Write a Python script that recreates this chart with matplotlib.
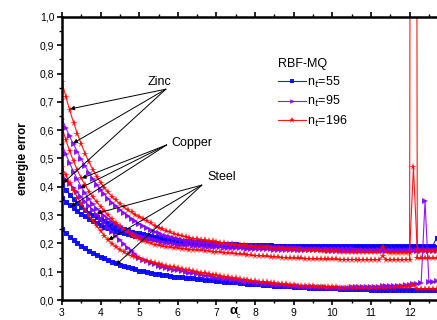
import matplotlib
matplotlib.use("Agg")
import matplotlib.pyplot as plt
import numpy as np
from matplotlib.ticker import MultipleLocator, FuncFormatter

plt.rcParams['font.family'] = ['Liberation Sans', 'DejaVu Sans']

# alpha_c grid, 3.0 ... 12.7 step 0.1
alpha = np.round(np.arange(30, 128) / 10.0, 1)

# nt = 55 (blue)
zinc_55 = [0.410, 0.390, 0.372, 0.356, 0.342, 0.330, 0.319, 0.309, 0.300, 0.292,
           0.285, 0.278, 0.272, 0.266, 0.260, 0.255, 0.251, 0.246, 0.242, 0.238,
           0.235, 0.232, 0.229, 0.226, 0.224, 0.221, 0.219, 0.217, 0.215, 0.213,
           0.211, 0.210, 0.209, 0.207, 0.206, 0.205, 0.204, 0.203, 0.202, 0.201,
           0.200, 0.199, 0.199, 0.198, 0.197, 0.197, 0.196, 0.196, 0.195, 0.195,
           0.194, 0.194, 0.193, 0.193, 0.193, 0.192, 0.192, 0.192, 0.192, 0.191,
           0.191, 0.191, 0.191, 0.191, 0.191, 0.191, 0.191, 0.190, 0.190, 0.190,
           0.190, 0.190, 0.190, 0.190, 0.190, 0.190, 0.190, 0.190, 0.190, 0.190,
           0.190, 0.190, 0.190, 0.190, 0.190, 0.190, 0.190, 0.190, 0.190, 0.190,
           0.190, 0.190, 0.190, 0.191, 0.191, 0.191, 0.191, 0.220]
copper_55 = [0.360, 0.347, 0.335, 0.324, 0.314, 0.305, 0.296, 0.287, 0.279, 0.272,
             0.265, 0.259, 0.254, 0.249, 0.244, 0.240, 0.236, 0.233, 0.230, 0.227,
             0.225, 0.222, 0.220, 0.218, 0.216, 0.214, 0.212, 0.210, 0.208, 0.207,
             0.205, 0.204, 0.203, 0.202, 0.201, 0.200, 0.199, 0.198, 0.197, 0.197,
             0.196, 0.195, 0.195, 0.194, 0.194, 0.193, 0.193, 0.192, 0.192, 0.192,
             0.191, 0.191, 0.191, 0.190, 0.190, 0.190, 0.190, 0.190, 0.189, 0.189,
             0.189, 0.189, 0.189, 0.189, 0.189, 0.189, 0.189, 0.189, 0.188, 0.188,
             0.188, 0.188, 0.188, 0.188, 0.188, 0.188, 0.188, 0.188, 0.188, 0.188,
             0.188, 0.188, 0.188, 0.188, 0.188, 0.188, 0.188, 0.188, 0.188, 0.188,
             0.188, 0.188, 0.188, 0.188, 0.188, 0.188, 0.188, 0.188]
steel_55 = [0.250, 0.237, 0.224, 0.212, 0.201, 0.191, 0.182, 0.174, 0.166, 0.159,
            0.153, 0.147, 0.141, 0.135, 0.130, 0.125, 0.120, 0.116, 0.112, 0.108,
            0.104, 0.101, 0.098, 0.096, 0.093, 0.091, 0.089, 0.087, 0.085, 0.083,
            0.081, 0.080, 0.078, 0.077, 0.076, 0.074, 0.073, 0.072, 0.070, 0.069,
            0.068, 0.066, 0.065, 0.064, 0.063, 0.062, 0.060, 0.059, 0.058, 0.057,
            0.056, 0.055, 0.054, 0.053, 0.052, 0.051, 0.050, 0.050, 0.049, 0.048,
            0.047, 0.046, 0.046, 0.045, 0.044, 0.044, 0.043, 0.043, 0.042, 0.042,
            0.041, 0.041, 0.040, 0.040, 0.039, 0.039, 0.039, 0.038, 0.038, 0.038,
            0.037, 0.037, 0.037, 0.036, 0.036, 0.036, 0.036, 0.035, 0.035, 0.035,
            0.035, 0.035, 0.034, 0.034, 0.034, 0.034, 0.034, 0.034]

# nt = 95 (purple)
zinc_95 = [0.640, 0.608, 0.578, 0.550, 0.523, 0.497, 0.473, 0.450, 0.428, 0.408,
           0.390, 0.373, 0.358, 0.344, 0.331, 0.319, 0.308, 0.297, 0.287, 0.278,
           0.270, 0.262, 0.254, 0.247, 0.241, 0.236, 0.231, 0.226, 0.222, 0.218,
           0.215, 0.212, 0.210, 0.208, 0.206, 0.204, 0.203, 0.201, 0.200, 0.199,
           0.198, 0.197, 0.196, 0.195, 0.194, 0.193, 0.192, 0.191, 0.190, 0.189,
           0.188, 0.188, 0.187, 0.186, 0.186, 0.185, 0.185, 0.184, 0.184, 0.183,
           0.182, 0.182, 0.182, 0.181, 0.181, 0.181, 0.180, 0.180, 0.180, 0.180,
           0.179, 0.179, 0.179, 0.179, 0.179, 0.179, 0.178, 0.178, 0.178, 0.178,
           0.178, 0.178, 0.178, 0.178, 0.178, 0.178, 0.178, 0.178, 0.178, 0.178,
           0.177, 0.177, 0.177, 0.177, 0.177, 0.177, 0.177, 0.177]
copper_95 = [0.550, 0.515, 0.483, 0.453, 0.426, 0.400, 0.377, 0.356, 0.338, 0.323,
             0.310, 0.298, 0.287, 0.277, 0.268, 0.259, 0.251, 0.244, 0.237, 0.231,
             0.226, 0.222, 0.218, 0.214, 0.211, 0.208, 0.205, 0.203, 0.200, 0.198,
             0.196, 0.195, 0.194, 0.193, 0.192, 0.191, 0.190, 0.189, 0.188, 0.187,
             0.186, 0.186, 0.185, 0.184, 0.184, 0.183, 0.183, 0.182, 0.181, 0.181,
             0.180, 0.180, 0.179, 0.179, 0.179, 0.178, 0.178, 0.178, 0.177, 0.177,
             0.176, 0.176, 0.176, 0.176, 0.175, 0.175, 0.175, 0.175, 0.175, 0.174,
             0.174, 0.174, 0.174, 0.174, 0.174, 0.174, 0.173, 0.173, 0.173, 0.173,
             0.173, 0.173, 0.173, 0.173, 0.173, 0.173, 0.173, 0.173, 0.173, 0.173,
             0.172, 0.172, 0.172, 0.172, 0.172, 0.172, 0.172, 0.172]
steel_95 = [0.440, 0.425, 0.410, 0.395, 0.380, 0.364, 0.348, 0.332, 0.317, 0.302,
            0.287, 0.271, 0.255, 0.240, 0.225, 0.211, 0.198, 0.185, 0.173, 0.161,
            0.150, 0.143, 0.137, 0.131, 0.126, 0.121, 0.117, 0.113, 0.110, 0.107,
            0.105, 0.102, 0.099, 0.096, 0.094, 0.091, 0.089, 0.086, 0.084, 0.081,
            0.079, 0.077, 0.075, 0.073, 0.071, 0.069, 0.067, 0.065, 0.064, 0.062,
            0.060, 0.059, 0.057, 0.056, 0.055, 0.054, 0.053, 0.052, 0.051, 0.050,
            0.048, 0.048, 0.047, 0.047, 0.046, 0.046, 0.045, 0.045, 0.045, 0.044,
            0.044, 0.044, 0.044, 0.044, 0.044, 0.045, 0.045, 0.045, 0.045, 0.046,
            0.046, 0.047, 0.047, 0.048, 0.048, 0.049, 0.050, 0.050, 0.051, 0.052,
            0.053, 0.055, 0.058, 0.061, 0.350, 0.065, 0.065, 0.066]

# nt = 196 (red)
zinc_196 = [0.770, 0.718, 0.670, 0.627, 0.587, 0.550, 0.517, 0.487, 0.460, 0.436,
            0.415, 0.397, 0.380, 0.365, 0.352, 0.340, 0.329, 0.319, 0.310, 0.302,
            0.295, 0.287, 0.279, 0.271, 0.263, 0.256, 0.250, 0.244, 0.239, 0.234,
            0.230, 0.226, 0.223, 0.220, 0.217, 0.215, 0.213, 0.211, 0.209, 0.207,
            0.205, 0.203, 0.201, 0.199, 0.197, 0.196, 0.194, 0.193, 0.191, 0.190,
            0.189, 0.188, 0.187, 0.186, 0.185, 0.184, 0.183, 0.182, 0.181, 0.180,
            0.179, 0.178, 0.178, 0.177, 0.176, 0.175, 0.175, 0.174, 0.173, 0.173,
            0.172, 0.172, 0.171, 0.171, 0.170, 0.170, 0.169, 0.169, 0.169, 0.168,
            0.168, 0.168, 0.168, 0.188, 0.168, 0.167, 0.167, 0.167, 0.167, 0.167,
            0.167, 0.470, 0.172, 0.173, 0.173, 0.173, 0.174, 0.174]
copper_196 = [0.610, 0.565, 0.525, 0.490, 0.458, 0.430, 0.405, 0.383, 0.363, 0.346,
              0.330, 0.314, 0.299, 0.285, 0.272, 0.260, 0.249, 0.239, 0.230, 0.222,
              0.215, 0.209, 0.204, 0.200, 0.196, 0.193, 0.190, 0.188, 0.186, 0.184,
              0.183, 0.181, 0.180, 0.178, 0.177, 0.176, 0.175, 0.174, 0.172, 0.171,
              0.170, 0.169, 0.167, 0.166, 0.165, 0.163, 0.162, 0.161, 0.160, 0.158,
              0.157, 0.156, 0.155, 0.154, 0.153, 0.152, 0.151, 0.150, 0.149, 0.148,
              0.148, 0.147, 0.147, 0.146, 0.146, 0.145, 0.145, 0.145, 0.144, 0.144,
              0.144, 0.144, 0.143, 0.143, 0.143, 0.143, 0.143, 0.142, 0.142, 0.142,
              0.142, 0.142, 0.142, 0.155, 0.142, 0.142, 0.142, 0.142, 0.142, 0.143,
              0.143, 9.000, 0.147, 0.147, 0.147, 0.147, 0.147, 0.147]
steel_196 = [0.470, 0.440, 0.412, 0.386, 0.362, 0.340, 0.318, 0.297, 0.278, 0.260,
             0.243, 0.227, 0.212, 0.199, 0.188, 0.178, 0.170, 0.162, 0.156, 0.151,
             0.147, 0.143, 0.139, 0.135, 0.131, 0.128, 0.124, 0.121, 0.118, 0.115,
             0.113, 0.110, 0.107, 0.105, 0.102, 0.099, 0.097, 0.094, 0.092, 0.089,
             0.087, 0.085, 0.083, 0.080, 0.078, 0.076, 0.074, 0.072, 0.070, 0.068,
             0.066, 0.065, 0.063, 0.062, 0.060, 0.059, 0.058, 0.056, 0.055, 0.054,
             0.052, 0.051, 0.050, 0.050, 0.049, 0.048, 0.047, 0.047, 0.046, 0.046,
             0.045, 0.045, 0.044, 0.044, 0.044, 0.044, 0.043, 0.043, 0.043, 0.043,
             0.043, 0.043, 0.043, 0.043, 0.043, 0.044, 0.044, 0.045, 0.045, 0.046,
             0.046, 0.053, 0.038, 0.038, 0.038, 0.038, 0.038, 0.038]

groups = [
    ("n$_t$=55", "#0000ff", "s", 3.6, [zinc_55, copper_55, steel_55]),
    ("n$_t$=95", "#8000ff", ">", 4.2, [zinc_95, copper_95, steel_95]),
    ("n$_t$=196", "#ff0000", "*", 5.6, [zinc_196, copper_196, steel_196]),
]

fig = plt.figure(figsize=(4.37, 3.2), dpi=100)
ax = fig.add_axes([62 / 437, 20 / 320, 375 / 437, 283 / 320])

handles = []
for label, color, marker, ms, curves in groups:
    for i, vals in enumerate(curves):
        ln, = ax.plot(alpha, vals, color=color, lw=0.8, marker=marker,
                      markersize=ms, markeredgewidth=0, alpha=0.9)
        if i == 0:
            handles.append(ln)

ax.set_xlim(3, 12.71)
ax.set_ylim(0, 1.0)
ax.xaxis.set_major_locator(MultipleLocator(1))
ax.xaxis.set_minor_locator(MultipleLocator(0.5))
ax.yaxis.set_major_locator(MultipleLocator(0.1))
ax.yaxis.set_minor_locator(MultipleLocator(0.05))
ax.yaxis.set_major_formatter(FuncFormatter(lambda v, _: f"{v:.1f}".replace(".", ",")))
ax.tick_params(which='major', direction='out', length=3.5, width=1.2, labelsize=7.5, pad=2)
ax.tick_params(which='minor', direction='out', length=2, width=1.0)
ax.tick_params(top=True, which='both', labeltop=False)
for side in ['left', 'bottom', 'top']:
    ax.spines[side].set_linewidth(1.8)
ax.spines['right'].set_visible(False)

ax.set_ylabel("energie error", fontsize=8.5, fontweight='bold', labelpad=8)

# alpha_c label sitting among the tick labels
ax.text(7.43, -0.018, "α", transform=ax.get_xaxis_transform(), fontsize=9.5,
        fontweight='bold', ha='center', va='top')
ax.text(7.56, -0.045, "c", transform=ax.get_xaxis_transform(), fontsize=5,
        ha='center', va='top')

arrow = dict(arrowstyle='-|>', color='black', lw=0.7, mutation_scale=6, shrinkA=0, shrinkB=0)

ax.text(5.23, 0.77, "Zinc", fontsize=9, ha='left', va='center')
for tip in [(3.21, 0.675), (3.29, 0.554), (3.03, 0.413)]:
    ax.annotate("", xy=tip, xytext=(5.69, 0.745), arrowprops=arrow)

ax.text(5.82, 0.556, "Copper", fontsize=9, ha='left', va='center')
for tip in [(3.51, 0.43), (3.47, 0.395), (3.23, 0.33)]:
    ax.annotate("", xy=tip, xytext=(5.71, 0.548), arrowprops=arrow)

ax.text(6.76, 0.435, "Steel", fontsize=9, ha='left', va='center')
for tip in [(3.9, 0.306), (4.2, 0.212), (4.4, 0.124)]:
    ax.annotate("", xy=tip, xytext=(6.62, 0.406), arrowprops=arrow)

leg = ax.legend(handles, [g[0] for g in groups], title="RBF-MQ", frameon=False,
                loc='upper left', bbox_to_anchor=(272 / 437, 1 - 52 / 320),
                bbox_transform=fig.transFigure, fontsize=9, title_fontsize=9,
                handlelength=2.2, handletextpad=0.1, labelspacing=0.35,
                borderpad=0, numpoints=1, markerscale=0.8)
leg._legend_box.align = "left"

fig.savefig("out.png", dpi=100)
